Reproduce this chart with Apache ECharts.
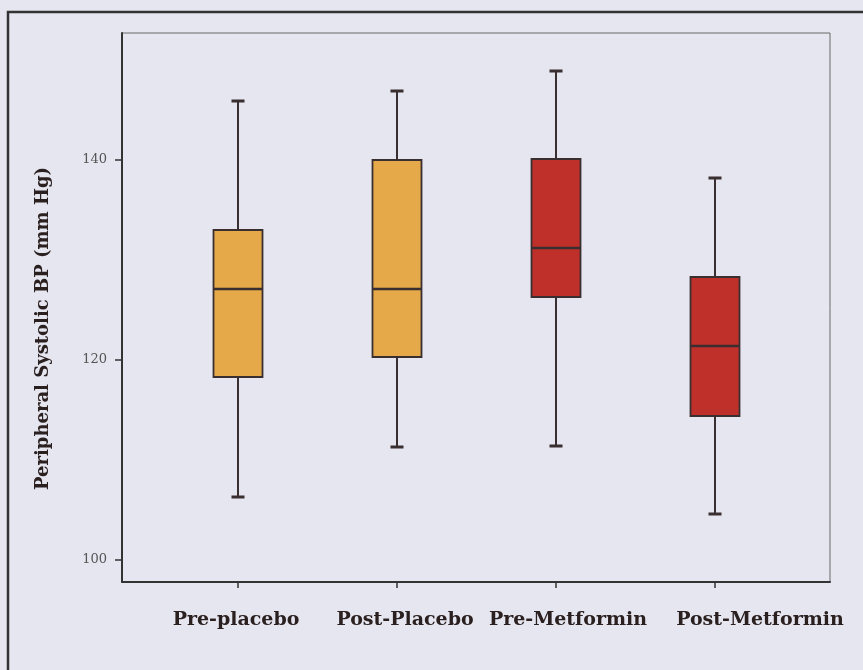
<!DOCTYPE html>
<html>
<head>
<meta charset="utf-8">
<title>Peripheral Systolic BP</title>
<script src="https://cdn.jsdelivr.net/npm/echarts@6/dist/echarts.min.js"></script>
<style>
  html, body { margin: 0; padding: 0; background: #e6e6f0; }
  #chart { width: 863px; height: 670px; }
</style>
</head>
<body>
<div id="chart"></div>
<script>
// Group names along the x axis
const categories = ['Pre-placebo', 'Post-Placebo', 'Pre-Metformin', 'Post-Metformin'];
// Five-number summaries (mm Hg) for each group
const whiskerLow  = [106.3, 111.3, 111.4, 104.6];
const quartile1   = [118.3, 120.3, 126.3, 114.4];
const medians     = [127.1, 127.1, 131.2, 121.4];
const quartile3   = [133.0, 140.0, 140.1, 128.3];
const whiskerHigh = [145.9, 146.9, 148.9, 138.2];
// Tick labels on the y axis
const yTicks = [100, 120, 140];
// Box fill per group
const boxColors = ['#e5a94a', '#e5a94a', '#c0302b', '#c0302b'];

const boxData = categories.map((c, i) =>
  [i, whiskerLow[i], quartile1[i], medians[i], quartile3[i], whiskerHigh[i]]);

const ink = '#3a2f30';
const yMin = 97.8, yMax = 152.7;

// Horizontal nudge (px) of each group label relative to its tick
const labelShift = [-2, 8, 12, 45];
const labelFont = {
  color: '#2b2020', fontFamily: 'DejaVu Serif', fontWeight: 'bold', fontSize: 19
};
const labelRich = {};
labelShift.forEach((s, i) => {
  labelRich['g' + i] = Object.assign({}, labelFont, {
    padding: s >= 0 ? [0, 0, 0, 2 * s] : [0, -2 * s, 0, 0]
  });
});

function renderBox(params, api) {
  const i = api.value(0);
  const pLow = api.coord([i, api.value(1)]);
  const pQ1 = api.coord([i, api.value(2)]);
  const pMed = api.coord([i, api.value(3)]);
  const pQ3 = api.coord([i, api.value(4)]);
  const pHigh = api.coord([i, api.value(5)]);
  const cx = pMed[0];
  const half = 24.5, cap = 6.5;
  const lineStyle = { stroke: ink, lineWidth: 2 };
  return {
    type: 'group',
    children: [
      { type: 'line', shape: { x1: cx, y1: pQ3[1], x2: cx, y2: pHigh[1] }, style: lineStyle },
      { type: 'line', shape: { x1: cx, y1: pQ1[1], x2: cx, y2: pLow[1] }, style: lineStyle },
      { type: 'line', shape: { x1: cx - cap, y1: pHigh[1], x2: cx + cap, y2: pHigh[1] }, style: { stroke: ink, lineWidth: 3 } },
      { type: 'line', shape: { x1: cx - cap, y1: pLow[1], x2: cx + cap, y2: pLow[1] }, style: { stroke: ink, lineWidth: 3 } },
      { type: 'rect', shape: { x: cx - half, y: pQ3[1], width: half * 2, height: pQ1[1] - pQ3[1] },
        style: { fill: boxColors[i], stroke: ink, lineWidth: 1.8 } },
      { type: 'line', shape: { x1: cx - half, y1: pMed[1], x2: cx + half, y2: pMed[1] }, style: { stroke: ink, lineWidth: 2.5 } }
    ]
  };
}

const chart = echarts.init(document.getElementById('chart'), null, { renderer: 'canvas' });
chart.setOption({
  backgroundColor: '#e6e6f0',
  animation: false,
  graphic: [{
    type: 'rect',
    shape: { x: 8, y: 12, width: 900, height: 700 },
    style: { fill: null, stroke: '#333333', lineWidth: 2.5 },
    silent: true
  }],
  grid: [
    // framed plot area carrying the y scale
    { left: 122, right: 33, top: 33, bottom: 88,
      show: true, borderColor: '#666666', borderWidth: 1, backgroundColor: 'transparent' },
    // band area for the four groups, inset within the frame
    { left: 158.5, right: 68.5, top: 33, bottom: 88 }
  ],
  xAxis: [
    {
      gridIndex: 0, type: 'value', min: 0, max: 1,
      splitLine: { show: false },
      axisLine: { show: true, onZero: false, lineStyle: { color: '#333', width: 2 } },
      axisTick: { show: false },
      axisLabel: { show: false }
    },
    {
      gridIndex: 1, type: 'category', data: categories,
      axisLine: { show: false },
      axisTick: { show: true, alignWithLabel: true, interval: 0, length: 6, lineStyle: { color: '#333', width: 1.5 } },
      axisLabel: Object.assign({
        interval: 0,
        margin: 29,
        formatter: (v, i) => '{g' + i + '|' + v + '}',
        rich: labelRich
      }, labelFont),
      splitLine: { show: false }
    }
  ],
  yAxis: [
    {
      gridIndex: 0, type: 'value',
      min: yMin, max: yMax,
      name: 'Peripheral Systolic BP (mm Hg)',
      nameLocation: 'middle',
      nameGap: 70,
      nameTextStyle: {
        color: '#2b2020', fontFamily: 'DejaVu Serif', fontWeight: 'bold', fontSize: 18,
        padding: [0, 42, 0, 0]
      },
      splitLine: { show: false },
      axisLine: { show: true, onZero: false, lineStyle: { color: '#333', width: 2 } },
      axisTick: { show: true, customValues: yTicks, length: 7, lineStyle: { color: '#333', width: 1.5 } },
      axisLabel: {
        customValues: yTicks,
        margin: 15,
        color: '#555555',
        fontFamily: 'DejaVu Serif',
        fontSize: 13
      }
    },
    {
      gridIndex: 1, type: 'value',
      min: yMin, max: yMax,
      show: false,
      splitLine: { show: false }
    }
  ],
  series: [{
    type: 'custom',
    xAxisIndex: 1,
    yAxisIndex: 1,
    renderItem: renderBox,
    encode: { x: 0, y: [1, 2, 3, 4, 5] },
    data: boxData
  }]
});
</script>
</body>
</html>
